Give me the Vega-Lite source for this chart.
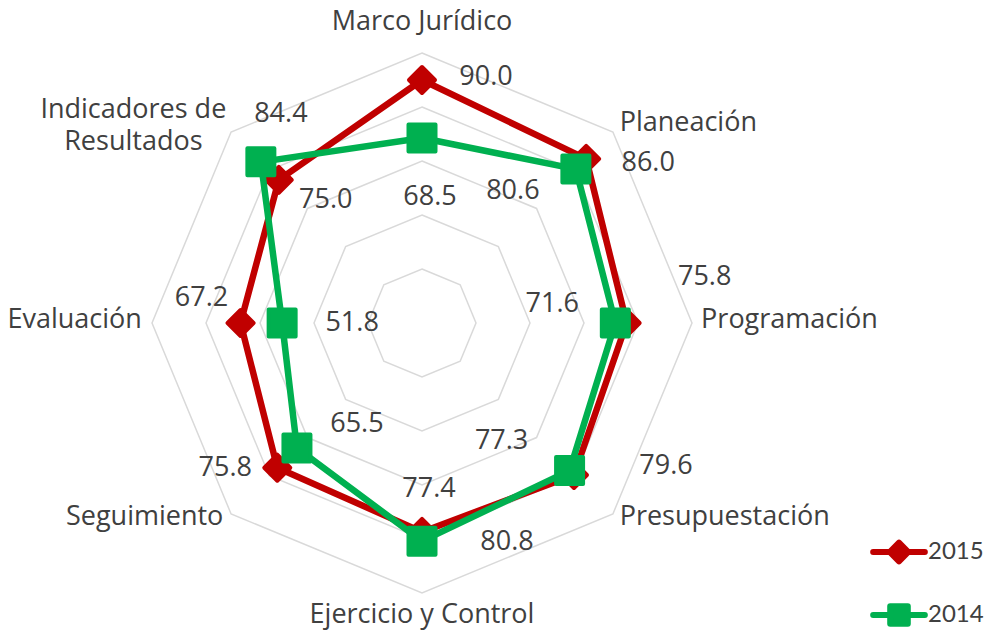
{
  "$schema": "https://vega.github.io/schema/vega-lite/v6.json",
  "width": 540,
  "height": 540,
  "autosize": {"type": "none"},
  "padding": {"left": 152, "top": 53, "right": 297, "bottom": 40},
  "background": "white",
  "config": {
    "view": {"stroke": null},
    "font": "Open Sans",
    "text": {"font": "Open Sans", "fontSize": 27, "color": "#404040"}
  },
  "datasets": {
    "scores": [
      {"category": "Marco Jurídico", "idx": 0, "series": "2015", "value": 90.0},
      {"category": "Planeación", "idx": 1, "series": "2015", "value": 86.0},
      {"category": "Programación", "idx": 2, "series": "2015", "value": 75.8},
      {"category": "Presupuestación", "idx": 3, "series": "2015", "value": 79.6},
      {"category": "Ejercicio y Control", "idx": 4, "series": "2015", "value": 77.4},
      {"category": "Seguimiento", "idx": 5, "series": "2015", "value": 75.8},
      {"category": "Evaluación", "idx": 6, "series": "2015", "value": 67.2},
      {"category": "Indicadores de Resultados", "idx": 7, "series": "2015", "value": 75.0},
      {"category": "Marco Jurídico", "idx": 0, "series": "2014", "value": 68.5},
      {"category": "Planeación", "idx": 1, "series": "2014", "value": 80.6},
      {"category": "Programación", "idx": 2, "series": "2014", "value": 71.6},
      {"category": "Presupuestación", "idx": 3, "series": "2014", "value": 77.3},
      {"category": "Ejercicio y Control", "idx": 4, "series": "2014", "value": 80.8},
      {"category": "Seguimiento", "idx": 5, "series": "2014", "value": 65.5},
      {"category": "Evaluación", "idx": 6, "series": "2014", "value": 51.8},
      {"category": "Indicadores de Resultados", "idx": 7, "series": "2014", "value": 84.4}
    ],
    "axes": [
      {"category": "Marco Jurídico", "label": "Marco Jurídico", "idx": 0, "levels": [20, 40, 60, 80, 100]},
      {"category": "Planeación", "label": "Planeación", "idx": 1, "levels": [20, 40, 60, 80, 100]},
      {"category": "Programación", "label": "Programación", "idx": 2, "levels": [20, 40, 60, 80, 100]},
      {"category": "Presupuestación", "label": "Presupuestación", "idx": 3, "levels": [20, 40, 60, 80, 100]},
      {"category": "Ejercicio y Control", "label": "Ejercicio y Control", "idx": 4, "levels": [20, 40, 60, 80, 100]},
      {"category": "Seguimiento", "label": "Seguimiento", "idx": 5, "levels": [20, 40, 60, 80, 100]},
      {"category": "Evaluación", "label": "Evaluación", "idx": 6, "levels": [20, 40, 60, 80, 100]},
      {"category": "Indicadores de Resultados", "label": "Indicadores de\nResultados", "idx": 7, "levels": [20, 40, 60, 80, 100]}
    ]
  },
  "encoding": {
    "x": {"field": "x", "type": "quantitative", "scale": {"domain": [-100, 100]}, "axis": null},
    "y": {"field": "y", "type": "quantitative", "scale": {"domain": [-100, 100]}, "axis": null}
  },
  "layer": [
    {
      "data": {"name": "axes"},
      "transform": [
        {"flatten": ["levels"], "as": ["level"]},
        {"calculate": "datum.idx * PI / 4", "as": "theta"},
        {"calculate": "datum.level * sin(datum.theta)", "as": "x"},
        {"calculate": "datum.level * cos(datum.theta)", "as": "y"}
      ],
      "mark": {"type": "line", "interpolate": "linear-closed", "stroke": "#d9d9d9", "strokeWidth": 1.5},
      "encoding": {
        "detail": {"field": "level", "type": "nominal"},
        "order": {"field": "idx", "type": "quantitative"}
      }
    },
    {
      "data": {"name": "axes"},
      "transform": [
        {"calculate": "datum.idx * PI / 4", "as": "theta"},
        {"calculate": "103 * sin(datum.theta)", "as": "x"},
        {"calculate": "103 * cos(datum.theta)", "as": "y"}
      ],
      "encoding": {"text": {"field": "label", "type": "nominal"}},
      "layer": [
        {"transform": [{"filter": "datum.idx == 0"}], "mark": {"type": "text", "align": "center", "baseline": "middle", "dy": -23}},
        {"transform": [{"filter": "datum.idx >= 1 && datum.idx <= 3"}], "mark": {"type": "text", "align": "left", "baseline": "middle", "dx": 1, "dy": -3}},
        {"transform": [{"filter": "datum.idx == 4"}], "mark": {"type": "text", "align": "center", "baseline": "middle", "dy": 14}},
        {"transform": [{"filter": "datum.idx == 5 || datum.idx == 6"}], "mark": {"type": "text", "align": "right", "baseline": "middle", "dx": -2, "dy": -3}},
        {"transform": [{"filter": "datum.idx == 7"}], "mark": {"type": "text", "align": "center", "baseline": "middle", "lineBreak": "\n", "lineHeight": 32, "dx": -92, "dy": -16}}
      ]
    },
    {
      "data": {"name": "scores"},
      "transform": [
        {"calculate": "datum.idx * PI / 4", "as": "theta"},
        {"calculate": "datum.value * sin(datum.theta)", "as": "x"},
        {"calculate": "datum.value * cos(datum.theta)", "as": "y"}
      ],
      "layer": [
        {
          "transform": [{"filter": "datum.series == '2015'"}],
          "mark": {"type": "line", "interpolate": "linear-closed", "stroke": "#C00000", "strokeWidth": 6.5, "strokeJoin": "round"},
          "encoding": {"order": {"field": "idx", "type": "quantitative"}}
        },
        {
          "transform": [{"filter": "datum.series == '2015'"}],
          "mark": {"type": "point", "shape": "diamond", "filled": true, "size": 676, "fill": "#C00000", "stroke": "#C00000", "strokeWidth": 4, "strokeJoin": "round", "opacity": 1}
        },
        {
          "transform": [{"filter": "datum.series == '2014'"}],
          "mark": {"type": "line", "interpolate": "linear-closed", "stroke": "#00B050", "strokeWidth": 6.5, "strokeJoin": "round"},
          "encoding": {"order": {"field": "idx", "type": "quantitative"}}
        },
        {
          "transform": [{"filter": "datum.series == '2014'"}],
          "mark": {"type": "point", "shape": "square", "filled": true, "size": 729, "fill": "#00B050", "stroke": "#00B050", "strokeWidth": 4, "strokeJoin": "round", "opacity": 1}
        },
        {
          "mark": {"type": "point", "filled": true, "opacity": 0},
          "encoding": {
            "color": {
              "field": "series", "type": "nominal",
              "scale": {"domain": ["2015", "2014"], "range": ["#C00000", "#00B050"]},
              "legend": {
                "orient": "none", "legendX": 733, "legendY": 485, "title": null, "padding": 0,
                "direction": "vertical", "symbolSize": 484, "symbolStrokeWidth": 6, "symbolOpacity": 1,
                "labelFont": "Lato", "labelFontSize": 24, "labelColor": "#404040", "labelOffset": 15,
                "rowPadding": 36,
                "encode": {"symbols": {"update": {
                  "fill": {"scale": "color", "field": "value"},
                  "stroke": {"scale": "color", "field": "value"},
                  "opacity": {"value": 1},
                  "strokeCap": {"value": "round"},
                  "strokeJoin": {"value": "round"}
                }}}
              }
            },
            "shape": {
              "field": "series", "type": "nominal",
              "scale": {"domain": ["2015", "2014"], "range": ["M-2.35,0L2.35,0M0,-0.85L0.85,0L0,0.85L-0.85,0Z", "M-2.35,0L2.35,0M-0.8,-0.8L0.8,-0.8L0.8,0.8L-0.8,0.8Z"]}
            }
          }
        },
        {"transform": [{"filter": "datum.series == '2015' && datum.idx == 0"}], "mark": {"type": "text", "dx": 64, "dy": -3}, "encoding": {"text": {"field": "value", "type": "quantitative", "format": ".1f"}}},
        {"transform": [{"filter": "datum.series == '2015' && datum.idx == 1"}], "mark": {"type": "text", "dx": 62, "dy": 4}, "encoding": {"text": {"field": "value", "type": "quantitative", "format": ".1f"}}},
        {"transform": [{"filter": "datum.series == '2015' && datum.idx == 2"}], "mark": {"type": "text", "dx": 78, "dy": -46}, "encoding": {"text": {"field": "value", "type": "quantitative", "format": ".1f"}}},
        {"transform": [{"filter": "datum.series == '2015' && datum.idx == 3"}], "mark": {"type": "text", "dx": 92, "dy": -9}, "encoding": {"text": {"field": "value", "type": "quantitative", "format": ".1f"}}},
        {"transform": [{"filter": "datum.series == '2015' && datum.idx == 4"}], "mark": {"type": "text", "dx": 7, "dy": -43}, "encoding": {"text": {"field": "value", "type": "quantitative", "format": ".1f"}}},
        {"transform": [{"filter": "datum.series == '2015' && datum.idx == 5"}], "mark": {"type": "text", "dx": -52, "dy": 0}, "encoding": {"text": {"field": "value", "type": "quantitative", "format": ".1f"}}},
        {"transform": [{"filter": "datum.series == '2015' && datum.idx == 6"}], "mark": {"type": "text", "dx": -39, "dy": -25}, "encoding": {"text": {"field": "value", "type": "quantitative", "format": ".1f"}}},
        {"transform": [{"filter": "datum.series == '2015' && datum.idx == 7"}], "mark": {"type": "text", "dx": 47, "dy": 20}, "encoding": {"text": {"field": "value", "type": "quantitative", "format": ".1f"}}},
        {"transform": [{"filter": "datum.series == '2014' && datum.idx == 0"}], "mark": {"type": "text", "dx": 8, "dy": 59}, "encoding": {"text": {"field": "value", "type": "quantitative", "format": ".1f"}}},
        {"transform": [{"filter": "datum.series == '2014' && datum.idx == 1"}], "mark": {"type": "text", "dx": -63, "dy": 22}, "encoding": {"text": {"field": "value", "type": "quantitative", "format": ".1f"}}},
        {"transform": [{"filter": "datum.series == '2014' && datum.idx == 2"}], "mark": {"type": "text", "dx": -63, "dy": -19}, "encoding": {"text": {"field": "value", "type": "quantitative", "format": ".1f"}}},
        {"transform": [{"filter": "datum.series == '2014' && datum.idx == 3"}], "mark": {"type": "text", "dx": -68, "dy": -30}, "encoding": {"text": {"field": "value", "type": "quantitative", "format": ".1f"}}},
        {"transform": [{"filter": "datum.series == '2014' && datum.idx == 4"}], "mark": {"type": "text", "dx": 85, "dy": 1}, "encoding": {"text": {"field": "value", "type": "quantitative", "format": ".1f"}}},
        {"transform": [{"filter": "datum.series == '2014' && datum.idx == 5"}], "mark": {"type": "text", "dx": 60, "dy": -24}, "encoding": {"text": {"field": "value", "type": "quantitative", "format": ".1f"}}},
        {"transform": [{"filter": "datum.series == '2014' && datum.idx == 6"}], "mark": {"type": "text", "dx": 70, "dy": 0}, "encoding": {"text": {"field": "value", "type": "quantitative", "format": ".1f"}}},
        {"transform": [{"filter": "datum.series == '2014' && datum.idx == 7"}], "mark": {"type": "text", "dx": 20, "dy": -48}, "encoding": {"text": {"field": "value", "type": "quantitative", "format": ".1f"}}}
      ]
    }
  ]
}
